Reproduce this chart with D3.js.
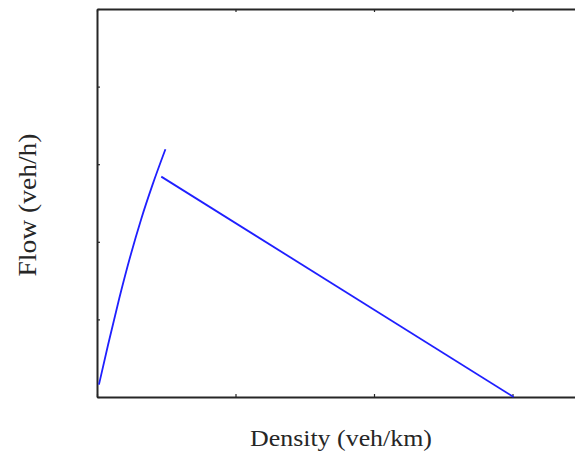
<!DOCTYPE html>
<html>
<head>
<meta charset="utf-8">
<script src="https://cdn.jsdelivr.net/npm/d3@7"></script>
<style>
  body { margin: 0; background: #fff; }
  text { font-family: "Liberation Serif", "Times New Roman", serif; fill: #262626; }
</style>
</head>
<body>
<div id="chart"></div>
<script>
/*free-flow branch of the fundamental diagram (density, flow)*/
var freeDensity = [0.7, 4, 8, 12, 16, 20, 24.7];
var freeFlow = [80, 337, 633, 905, 1149, 1365, 1596];

/*congested branch*/
var congDensity = [23.2, 150.4];
var congFlow = [1420, 0];

/*tick values (no labels shown)*/
var xTicks = [0, 50, 100, 150, 200];
var yTicks = [0, 500, 1000, 1500, 2000, 2500];

var svgWidth = 575;
var svgHeight = 452;

var margin = { top: 9, left: 97 };
var plotWidth = 554;
var plotHeight = 388;

var svg = d3.select("#chart").append("svg")
  .attr("width", svgWidth)
  .attr("height", svgHeight);

var g = svg.append("g")
  .attr("transform", `translate(${margin.left}, ${margin.top})`);

var xScale = d3.scaleLinear().domain([0, 200]).range([0, plotWidth]);
var yScale = d3.scaleLinear().domain([0, 2500]).range([plotHeight, 0]);

/*axes with inward ticks and no labels*/
function styleAxis(sel) {
  sel.selectAll(".domain").attr("stroke", "#262626").attr("stroke-width", 2);
  sel.selectAll(".tick line").attr("stroke", "#262626").attr("stroke-width", 1.2);
  sel.selectAll(".tick text").remove();
}

g.append("g")
  .attr("transform", `translate(0,${plotHeight})`)
  .call(d3.axisBottom(xScale).tickValues(xTicks).tickSize(-3).tickSizeOuter(0))
  .call(styleAxis);

g.append("g")
  .call(d3.axisTop(xScale).tickValues(xTicks).tickSize(-3).tickSizeOuter(0))
  .call(styleAxis);

g.append("g")
  .call(d3.axisLeft(yScale).tickValues(yTicks).tickSize(-3).tickSizeOuter(0))
  .call(styleAxis);

g.append("g")
  .attr("transform", `translate(${plotWidth},0)`)
  .call(d3.axisRight(yScale).tickValues(yTicks).tickSize(-3).tickSizeOuter(0))
  .call(styleAxis);

/*the two branches*/
var line = d3.line()
  .x(d => xScale(d[0]))
  .y(d => yScale(d[1]))
  .curve(d3.curveMonotoneX);

g.append("path")
  .datum(d3.zip(freeDensity, freeFlow))
  .attr("fill", "none")
  .attr("stroke", "#1f1fff")
  .attr("stroke-width", 1.8)
  .attr("d", line);

g.append("path")
  .datum(d3.zip(congDensity, congFlow))
  .attr("fill", "none")
  .attr("stroke", "#1f1fff")
  .attr("stroke-width", 1.8)
  .attr("d", line);

/*axis labels*/
svg.append("text")
  .attr("text-anchor", "middle")
  .attr("x", 341)
  .attr("y", 446)
  .attr("textLength", 182)
  .attr("lengthAdjust", "spacingAndGlyphs")
  .style("font-size", "24px")
  .text("Density (veh/km)");

svg.append("text")
  .attr("text-anchor", "middle")
  .attr("transform", "translate(36,205) rotate(-90)")
  .attr("textLength", 143)
  .attr("lengthAdjust", "spacingAndGlyphs")
  .style("font-size", "26px")
  .text("Flow (veh/h)");
</script>
</body>
</html>
